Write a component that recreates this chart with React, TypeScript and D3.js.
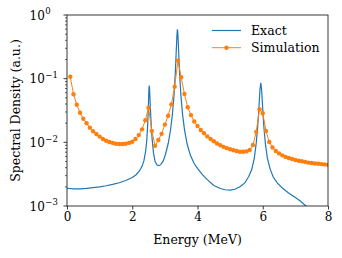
import React, { useRef, useEffect } from "react";
import * as d3 from "d3";

// simulated spectrum, one point every 0.1 MeV
const simEnergy = [
  0.1, 0.2, 0.3, 0.4, 0.5, 0.6, 0.7, 0.8, 0.9, 1.0,
  1.1, 1.2, 1.3, 1.4, 1.5, 1.6, 1.7, 1.8, 1.9, 2.0,
  2.1, 2.2, 2.3, 2.4, 2.5, 2.6, 2.7, 2.8, 2.9, 3.0,
  3.1, 3.2, 3.3, 3.4, 3.5, 3.6, 3.7, 3.8, 3.9, 4.0,
  4.1, 4.2, 4.3, 4.4, 4.5, 4.6, 4.7, 4.8, 4.9, 5.0,
  5.1, 5.2, 5.3, 5.4, 5.5, 5.6, 5.7, 5.8, 5.9, 6.0,
  6.1, 6.2, 6.3, 6.4, 6.5, 6.6, 6.7, 6.8, 6.9, 7.0,
  7.1, 7.2, 7.3, 7.4, 7.5, 7.6, 7.7, 7.8, 7.9, 8.0,
];
const simDensity = [
  0.107, 0.057, 0.039, 0.0292, 0.0235, 0.0199, 0.017, 0.0149, 0.0135, 0.0123,
  0.0113, 0.0106, 0.0101, 0.0098, 0.0095, 0.0094, 0.0094, 0.0095, 0.0098, 0.0102,
  0.0113, 0.013, 0.016, 0.0222, 0.035, 0.0151, 0.0088, 0.0109, 0.0136, 0.019,
  0.0262, 0.0395, 0.0747, 0.193, 0.105, 0.0574, 0.0355, 0.0268, 0.0213, 0.0181,
  0.0156, 0.0139, 0.0124, 0.0113, 0.0104, 0.0096, 0.009, 0.0085, 0.0081, 0.0078,
  0.0075, 0.0073, 0.0071, 0.0071, 0.0072, 0.0076, 0.0091, 0.0146, 0.033, 0.0286,
  0.0151, 0.0101, 0.0083, 0.0073, 0.0067, 0.00625, 0.0059, 0.00567, 0.00547, 0.00527,
  0.00515, 0.00505, 0.00493, 0.0048, 0.00474, 0.00465, 0.0046, 0.00455, 0.0045, 0.00443,
];

// exact spectrum, sampled densely around the three peaks
const exactEnergy = [
  0.0, 0.2, 0.4, 0.6, 0.8, 1.0, 1.2, 1.4, 1.6, 1.8,
  2.0, 2.12, 2.22, 2.3, 2.36, 2.41, 2.445, 2.47, 2.49, 2.5,
  2.51, 2.52, 2.53, 2.54, 2.55, 2.565, 2.585, 2.61, 2.65, 2.7,
  2.76, 2.82, 2.88, 2.95, 3.02, 3.1, 3.17, 3.23, 3.28, 3.32,
  3.35, 3.37, 3.385, 3.4, 3.42, 3.45, 3.49, 3.54, 3.6, 3.68,
  3.78, 3.9, 4.0, 4.15, 4.3, 4.5, 4.7, 4.85, 5.0, 5.15,
  5.3, 5.45, 5.57, 5.66, 5.74, 5.8, 5.84, 5.87, 5.895, 5.915,
  5.94, 5.965, 5.985, 6.01, 6.04, 6.08, 6.14, 6.22, 6.32, 6.45,
  6.6, 6.8, 7.0, 7.15, 7.3, 7.45, 7.6, 7.8, 8.0,
];
const exactDensity = [
  0.0019, 0.00186, 0.00186, 0.00189, 0.00194, 0.002, 0.00208, 0.00218, 0.00232, 0.00252,
  0.0028, 0.0031, 0.00355, 0.0042, 0.0052, 0.0072, 0.0108, 0.0175, 0.031, 0.046,
  0.066, 0.078, 0.069, 0.053, 0.04, 0.027, 0.0172, 0.0112, 0.0069, 0.005,
  0.0044, 0.0043, 0.0045, 0.0051, 0.0065, 0.0095, 0.0152, 0.0274, 0.055, 0.123,
  0.281, 0.49, 0.595, 0.49, 0.281, 0.124, 0.056, 0.028, 0.016, 0.0095,
  0.0063, 0.0046, 0.0039, 0.0031, 0.0026, 0.0021, 0.00188, 0.0018, 0.00178, 0.00183,
  0.002, 0.0023, 0.0029, 0.0037, 0.0056, 0.0097, 0.0163, 0.0272, 0.045, 0.067,
  0.0863, 0.067, 0.045, 0.027, 0.0162, 0.0096, 0.0057, 0.0039, 0.00285, 0.00228,
  0.00192, 0.00159, 0.00136, 0.0012, 0.00103, 0.00089, 0.00077, 0.00065, 0.00055,
];

const xTicks = [0, 2, 4, 6, 8];
const yTickExponents = [-3, -2, -1, 0];
const seriesNames = ["Exact", "Simulation"];

const BLUE = "#1f77b4";
const ORANGE = "#ff7f0e";
const FONT = "DejaVu Serif, Liberation Serif, serif";

const SpectrumChart = () => {
  const svgRef = useRef<SVGSVGElement>(null);

  useEffect(() => {
    if (!svgRef.current) return;

    const svg = d3.select(svgRef.current);
    const width = 342;
    const height = 258;
    const margin = { top: 15, right: 14, bottom: 52, left: 67 };

    svg.selectAll("*").remove();

    const x = d3
      .scaleLinear()
      .domain([0, 8])
      .range([margin.left, width - margin.right]);

    const y = d3
      .scaleLog()
      .domain([1e-3, 1])
      .range([height - margin.bottom, margin.top]);

    svg
      .append("defs")
      .append("clipPath")
      .attr("id", "plot-clip")
      .append("rect")
      .attr("x", margin.left)
      .attr("y", margin.top)
      .attr("width", width - margin.left - margin.right)
      .attr("height", height - margin.top - margin.bottom);

    const exact = exactEnergy.map((e, i) => [e, exactDensity[i]]);
    const sim = simEnergy.map((e, i) => [e, simDensity[i]]);

    const line = d3
      .line<number[]>()
      .x((d) => x(d[0]))
      .y((d) => y(d[1]));

    const plot = svg.append("g").attr("clip-path", "url(#plot-clip)");

    plot
      .append("path")
      .datum(exact)
      .attr("d", line)
      .attr("fill", "none")
      .attr("stroke", BLUE)
      .attr("stroke-width", 1.2);

    plot
      .append("path")
      .datum(sim)
      .attr("d", line)
      .attr("fill", "none")
      .attr("stroke", ORANGE)
      .attr("stroke-width", 1);

    plot
      .append("g")
      .attr("fill", ORANGE)
      .selectAll("circle")
      .data(sim)
      .join("circle")
      .attr("cx", (d) => x(d[0]))
      .attr("cy", (d) => y(d[1]))
      .attr("r", 2.2);

    // x axis
    const xAxis = svg
      .append("g")
      .attr("transform", `translate(0,${height - margin.bottom})`)
      .call(
        d3
          .axisBottom(x)
          .tickValues(xTicks)
          .tickSize(3.5)
          .tickSizeOuter(0)
          .tickPadding(3)
          .tickFormat(d3.format("d"))
      );
    xAxis.select(".domain").remove();
    xAxis.selectAll("line").attr("stroke", "#222").attr("stroke-width", 0.9);
    xAxis
      .selectAll("text")
      .attr("font-family", FONT)
      .attr("font-size", 12)
      .attr("fill", "#000");

    // y axis, major and minor log ticks
    const yAxis = svg.append("g");
    const minor: number[] = [];
    yTickExponents.slice(0, -1).forEach((p) => {
      for (let k = 2; k <= 9; k++) minor.push(k * Math.pow(10, p));
    });
    yAxis
      .selectAll("line.minor")
      .data(minor)
      .join("line")
      .attr("class", "minor")
      .attr("x1", margin.left - 2)
      .attr("x2", margin.left)
      .attr("y1", (d) => y(d))
      .attr("y2", (d) => y(d))
      .attr("stroke", "#222")
      .attr("stroke-width", 0.7);
    yAxis
      .selectAll("line.major")
      .data(yTickExponents)
      .join("line")
      .attr("class", "major")
      .attr("x1", margin.left - 3.5)
      .attr("x2", margin.left)
      .attr("y1", (d) => y(Math.pow(10, d)))
      .attr("y2", (d) => y(Math.pow(10, d)))
      .attr("stroke", "#222")
      .attr("stroke-width", 0.9);

    const labels = yAxis
      .selectAll("text")
      .data(yTickExponents)
      .join("text")
      .attr("x", 29.5)
      .attr("y", (d) => y(Math.pow(10, d)) + 4.7)
      .attr("text-anchor", "start")
      .attr("font-family", FONT)
      .attr("font-size", 12)
      .attr("fill", "#000");
    labels.append("tspan").text("10");
    labels
      .append("tspan")
      .attr("dx", 0.5)
      .attr("dy", -5.5)
      .attr("font-size", 8.5)
      .text((d) => (d < 0 ? `\u2212${-d}` : `${d}`));

    // frame
    svg
      .append("rect")
      .attr("x", margin.left)
      .attr("y", margin.top)
      .attr("width", width - margin.left - margin.right)
      .attr("height", height - margin.top - margin.bottom)
      .attr("fill", "none")
      .attr("stroke", "#222")
      .attr("stroke-width", 0.9);

    // axis titles
    svg
      .append("text")
      .attr("x", (margin.left + width - margin.right) / 2)
      .attr("y", 244)
      .attr("text-anchor", "middle")
      .attr("font-family", FONT)
      .attr("font-size", 12.5)
      .text("Energy (MeV)");

    svg
      .append("text")
      .attr(
        "transform",
        `translate(20,${(margin.top + height - margin.bottom) / 2}) rotate(-90)`
      )
      .attr("text-anchor", "middle")
      .attr("font-family", FONT)
      .attr("font-size", 12.5)
      .text("Spectral Density (a.u.)");

    // legend
    const legend = svg.append("g").attr("transform", "translate(212,30.5)");
    seriesNames.forEach((name, i) => {
      const row = legend.append("g").attr("transform", `translate(0,${i * 17.2})`);
      const color = i === 0 ? BLUE : ORANGE;
      row
        .append("line")
        .attr("x1", 0)
        .attr("x2", 29)
        .attr("stroke", color)
        .attr("stroke-width", i === 0 ? 1.2 : 1);
      if (i === 1) row.append("circle").attr("cx", 14.5).attr("r", 2.2).attr("fill", ORANGE);
      row
        .append("text")
        .attr("x", 39)
        .attr("y", 4.5)
        .attr("font-family", FONT)
        .attr("font-size", 12.5)
        .text(name);
    });
  }, []);

  return (
    <svg
      ref={svgRef}
      width={342}
      height={258}
      style={{ position: "absolute", left: 0, top: 0, background: "#fff" }}
    ></svg>
  );
};

export default function App() {
  return <SpectrumChart />;
}
